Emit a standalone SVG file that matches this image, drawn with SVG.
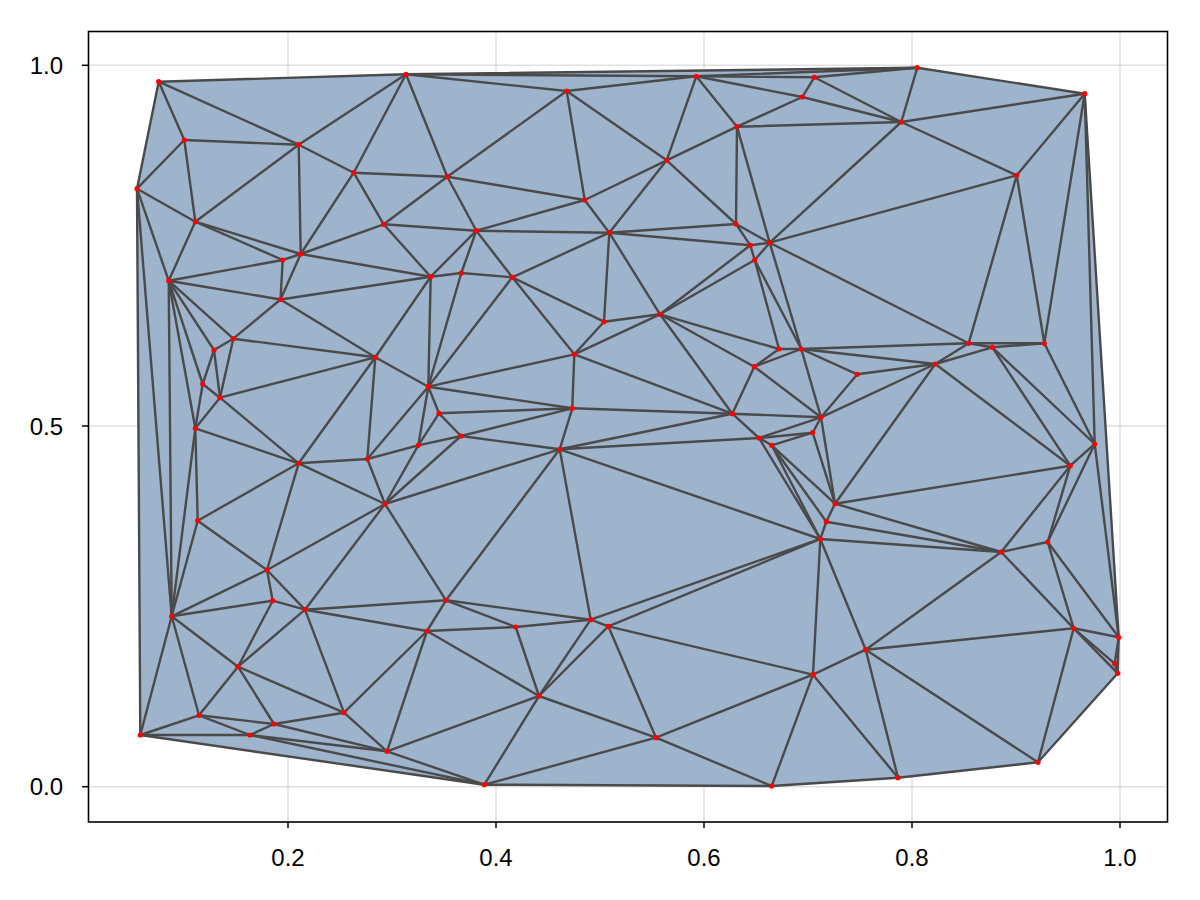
<svg xmlns="http://www.w3.org/2000/svg" width="1200" height="900" viewBox="0 0 1200 900">
<style>
.grid line{stroke:#000;stroke-opacity:0.12;stroke-width:1.5}
.tick line{stroke:#000;stroke-width:1.5}
.lbl{font-family:"Liberation Sans",Arial,sans-serif;font-size:24px;fill:#000}
#edges line{stroke:#4a4a4a;stroke-width:2.4;stroke-linecap:round}
.pt{fill:#ff0000}
</style>
<rect width="1200" height="900" fill="#fff"/>
<g class="grid">
<line x1="288" y1="32" x2="288" y2="822"/><line x1="496" y1="32" x2="496" y2="822"/><line x1="704" y1="32" x2="704" y2="822"/><line x1="912" y1="32" x2="912" y2="822"/><line x1="1120" y1="32" x2="1120" y2="822"/>
<line x1="88" y1="65.3" x2="1168" y2="65.3"/><line x1="88" y1="426" x2="1168" y2="426"/><line x1="88" y1="786.7" x2="1168" y2="786.7"/>
</g>
<polygon id="hull" fill="#9eb4cc" points="158.7,81.7 406,74.3 917.3,67.7 1084.7,93.7 1118.7,637.3 1117.7,673.3 1038,762.3 898,777.7 771.7,786 484.3,784.7 140.3,735 137,188.7"/>
<g id="edges">
<line x1="158.7" y1="81.7" x2="406" y2="74.3"/><line x1="406" y1="74.3" x2="917.3" y2="67.7"/><line x1="917.3" y1="67.7" x2="1084.7" y2="93.7"/><line x1="1084.7" y1="93.7" x2="1118.7" y2="637.3"/><line x1="1118.7" y1="637.3" x2="1117.7" y2="673.3"/><line x1="1117.7" y1="673.3" x2="1038" y2="762.3"/><line x1="1038" y1="762.3" x2="898" y2="777.7"/><line x1="898" y1="777.7" x2="771.7" y2="786"/><line x1="771.7" y1="786" x2="484.3" y2="784.7"/><line x1="484.3" y1="784.7" x2="140.3" y2="735"/><line x1="140.3" y1="735" x2="137" y2="188.7"/><line x1="137" y1="188.7" x2="158.7" y2="81.7"/>
<line x1="158.7" y1="81.7" x2="184.3" y2="140"/><line x1="158.7" y1="81.7" x2="298.7" y2="144.7"/><line x1="184.3" y1="140" x2="298.7" y2="144.7"/><line x1="184.3" y1="140" x2="137" y2="188.7"/><line x1="184.3" y1="140" x2="195.3" y2="221.7"/><line x1="298.7" y1="144.7" x2="195.3" y2="221.7"/><line x1="298.7" y1="144.7" x2="300.7" y2="254"/><line x1="298.7" y1="144.7" x2="353.7" y2="172.7"/><line x1="298.7" y1="144.7" x2="406" y2="74.3"/><line x1="353.7" y1="172.7" x2="406" y2="74.3"/><line x1="353.7" y1="172.7" x2="447.3" y2="176.7"/><line x1="353.7" y1="172.7" x2="383.7" y2="224.3"/><line x1="353.7" y1="172.7" x2="300.7" y2="254"/><line x1="137" y1="188.7" x2="195.3" y2="221.7"/><line x1="137" y1="188.7" x2="168.7" y2="280.7"/><line x1="137" y1="188.7" x2="171.7" y2="616.3"/><line x1="195.3" y1="221.7" x2="168.7" y2="280.7"/><line x1="195.3" y1="221.7" x2="282.7" y2="260"/><line x1="195.3" y1="221.7" x2="300.7" y2="254"/><line x1="300.7" y1="254" x2="282.7" y2="260"/><line x1="282.7" y1="260" x2="168.7" y2="280.7"/><line x1="282.7" y1="260" x2="280.5" y2="299.5"/><line x1="300.7" y1="254" x2="280.5" y2="299.5"/><line x1="300.7" y1="254" x2="383.7" y2="224.3"/><line x1="300.7" y1="254" x2="430.7" y2="276.7"/><line x1="280.5" y1="299.5" x2="430.7" y2="276.7"/><line x1="168.7" y1="280.7" x2="280.5" y2="299.5"/>
<line x1="406" y1="74.3" x2="566.7" y2="91"/><line x1="406" y1="74.3" x2="696.3" y2="76.3"/><line x1="406" y1="74.3" x2="447.3" y2="176.7"/><line x1="566.7" y1="91" x2="447.3" y2="176.7"/><line x1="566.7" y1="91" x2="584.7" y2="200"/><line x1="566.7" y1="91" x2="666.7" y2="160.3"/><line x1="566.7" y1="91" x2="696.3" y2="76.3"/><line x1="696.3" y1="76.3" x2="917.3" y2="67.7"/><line x1="696.3" y1="76.3" x2="814.3" y2="77.3"/><line x1="814.3" y1="77.3" x2="917.3" y2="67.7"/><line x1="814.3" y1="77.3" x2="802.3" y2="97"/><line x1="696.3" y1="76.3" x2="802.3" y2="97"/><line x1="814.3" y1="77.3" x2="901.3" y2="122"/><line x1="802.3" y1="97" x2="901.3" y2="122"/><line x1="802.3" y1="97" x2="737" y2="126.7"/><line x1="696.3" y1="76.3" x2="737" y2="126.7"/><line x1="696.3" y1="76.3" x2="666.7" y2="160.3"/><line x1="917.3" y1="67.7" x2="901.3" y2="122"/><line x1="1084.7" y1="93.7" x2="901.3" y2="122"/><line x1="1084.7" y1="93.7" x2="1016.7" y2="175.3"/><line x1="901.3" y1="122" x2="1016.7" y2="175.3"/><line x1="901.3" y1="122" x2="737" y2="126.7"/><line x1="901.3" y1="122" x2="769.7" y2="242.7"/><line x1="737" y1="126.7" x2="666.7" y2="160.3"/><line x1="737" y1="126.7" x2="736" y2="224"/><line x1="737" y1="126.7" x2="769.7" y2="242.7"/><line x1="666.7" y1="160.3" x2="736" y2="224"/><line x1="666.7" y1="160.3" x2="609.3" y2="232.7"/><line x1="666.7" y1="160.3" x2="584.7" y2="200"/><line x1="1016.7" y1="175.3" x2="769.7" y2="242.7"/><line x1="1016.7" y1="175.3" x2="968.7" y2="343.3"/><line x1="1016.7" y1="175.3" x2="1044.3" y2="343.3"/><line x1="1084.7" y1="93.7" x2="1044.3" y2="343.3"/><line x1="1084.7" y1="93.7" x2="1094.7" y2="444"/>
<line x1="447.3" y1="176.7" x2="584.7" y2="200"/><line x1="447.3" y1="176.7" x2="476.3" y2="230.7"/><line x1="447.3" y1="176.7" x2="383.7" y2="224.3"/><line x1="584.7" y1="200" x2="476.3" y2="230.7"/><line x1="584.7" y1="200" x2="609.3" y2="232.7"/><line x1="383.7" y1="224.3" x2="476.3" y2="230.7"/><line x1="383.7" y1="224.3" x2="430.7" y2="276.7"/><line x1="476.3" y1="230.7" x2="609.3" y2="232.7"/><line x1="476.3" y1="230.7" x2="430.7" y2="276.7"/><line x1="476.3" y1="230.7" x2="461.3" y2="273"/><line x1="476.3" y1="230.7" x2="512.3" y2="277.3"/><line x1="430.7" y1="276.7" x2="461.3" y2="273"/><line x1="461.3" y1="273" x2="512.3" y2="277.3"/><line x1="609.3" y1="232.7" x2="512.3" y2="277.3"/><line x1="609.3" y1="232.7" x2="604" y2="321.7"/><line x1="609.3" y1="232.7" x2="736" y2="224"/><line x1="609.3" y1="232.7" x2="750.3" y2="245.3"/><line x1="609.3" y1="232.7" x2="660" y2="314.3"/><line x1="736" y1="224" x2="750.3" y2="245.3"/><line x1="736" y1="224" x2="769.7" y2="242.7"/><line x1="750.3" y1="245.3" x2="769.7" y2="242.7"/><line x1="750.3" y1="245.3" x2="754.7" y2="260"/><line x1="769.7" y1="242.7" x2="754.7" y2="260"/><line x1="750.3" y1="245.3" x2="660" y2="314.3"/><line x1="754.7" y1="260" x2="660" y2="314.3"/><line x1="754.7" y1="260" x2="779" y2="349"/><line x1="754.7" y1="260" x2="801.3" y2="349"/><line x1="769.7" y1="242.7" x2="801.3" y2="349"/><line x1="769.7" y1="242.7" x2="968.7" y2="343.3"/>
<line x1="430.7" y1="276.7" x2="428.3" y2="386.7"/><line x1="430.7" y1="276.7" x2="375.3" y2="357.3"/><line x1="461.3" y1="273" x2="428.3" y2="386.7"/><line x1="512.3" y1="277.3" x2="428.3" y2="386.7"/><line x1="512.3" y1="277.3" x2="574.3" y2="354.3"/><line x1="512.3" y1="277.3" x2="604" y2="321.7"/><line x1="604" y1="321.7" x2="574.3" y2="354.3"/><line x1="604" y1="321.7" x2="660" y2="314.3"/><line x1="660" y1="314.3" x2="574.3" y2="354.3"/><line x1="660" y1="314.3" x2="779" y2="349"/><line x1="660" y1="314.3" x2="754.3" y2="366.7"/><line x1="660" y1="314.3" x2="732.3" y2="413.7"/><line x1="574.3" y1="354.3" x2="428.3" y2="386.7"/><line x1="574.3" y1="354.3" x2="572.3" y2="408.3"/><line x1="574.3" y1="354.3" x2="732.3" y2="413.7"/>
<line x1="168.7" y1="280.7" x2="233.3" y2="338.7"/><line x1="168.7" y1="280.7" x2="214" y2="350"/><line x1="168.7" y1="280.7" x2="202.7" y2="384"/><line x1="168.7" y1="280.7" x2="195.3" y2="428.3"/><line x1="168.7" y1="280.7" x2="171.7" y2="616.3"/><line x1="280.5" y1="299.5" x2="233.3" y2="338.7"/><line x1="280.5" y1="299.5" x2="375.3" y2="357.3"/><line x1="233.3" y1="338.7" x2="214" y2="350"/><line x1="233.3" y1="338.7" x2="220" y2="397.7"/><line x1="233.3" y1="338.7" x2="375.3" y2="357.3"/><line x1="214" y1="350" x2="202.7" y2="384"/><line x1="214" y1="350" x2="220" y2="397.7"/><line x1="202.7" y1="384" x2="220" y2="397.7"/><line x1="202.7" y1="384" x2="195.3" y2="428.3"/><line x1="220" y1="397.7" x2="195.3" y2="428.3"/><line x1="220" y1="397.7" x2="375.3" y2="357.3"/><line x1="220" y1="397.7" x2="298.7" y2="463.3"/><line x1="195.3" y1="428.3" x2="298.7" y2="463.3"/><line x1="195.3" y1="428.3" x2="197.7" y2="520.7"/><line x1="195.3" y1="428.3" x2="171.7" y2="616.3"/><line x1="375.3" y1="357.3" x2="298.7" y2="463.3"/><line x1="375.3" y1="357.3" x2="367.3" y2="459"/><line x1="375.3" y1="357.3" x2="428.3" y2="386.7"/><line x1="298.7" y1="463.3" x2="367.3" y2="459"/><line x1="298.7" y1="463.3" x2="197.7" y2="520.7"/><line x1="298.7" y1="463.3" x2="267" y2="570"/><line x1="298.7" y1="463.3" x2="385" y2="504"/><line x1="197.7" y1="520.7" x2="267" y2="570"/><line x1="197.7" y1="520.7" x2="171.7" y2="616.3"/>
<line x1="428.3" y1="386.7" x2="572.3" y2="408.3"/><line x1="428.3" y1="386.7" x2="439" y2="413.3"/><line x1="428.3" y1="386.7" x2="418.3" y2="445.3"/><line x1="428.3" y1="386.7" x2="367.3" y2="459"/><line x1="418.3" y1="445.3" x2="439" y2="413.3"/><line x1="418.3" y1="445.3" x2="461" y2="436"/><line x1="418.3" y1="445.3" x2="367.3" y2="459"/><line x1="418.3" y1="445.3" x2="385" y2="504"/><line x1="439" y1="413.3" x2="461" y2="436"/><line x1="439" y1="413.3" x2="572.3" y2="408.3"/><line x1="461" y1="436" x2="572.3" y2="408.3"/><line x1="461" y1="436" x2="559.7" y2="449.3"/><line x1="461" y1="436" x2="385" y2="504"/><line x1="572.3" y1="408.3" x2="559.7" y2="449.3"/><line x1="572.3" y1="408.3" x2="732.3" y2="413.7"/><line x1="559.7" y1="449.3" x2="732.3" y2="413.7"/><line x1="559.7" y1="449.3" x2="759" y2="438"/><line x1="559.7" y1="449.3" x2="820.3" y2="539"/><line x1="559.7" y1="449.3" x2="590.7" y2="619.7"/><line x1="559.7" y1="449.3" x2="446" y2="600.3"/><line x1="559.7" y1="449.3" x2="385" y2="504"/><line x1="367.3" y1="459" x2="385" y2="504"/>
<line x1="779" y1="349" x2="801.3" y2="349"/><line x1="779" y1="349" x2="754.3" y2="366.7"/><line x1="801.3" y1="349" x2="754.3" y2="366.7"/><line x1="801.3" y1="349" x2="968.7" y2="343.3"/><line x1="801.3" y1="349" x2="857.3" y2="374.3"/><line x1="801.3" y1="349" x2="935.3" y2="364"/><line x1="801.3" y1="349" x2="821" y2="417.3"/><line x1="754.3" y1="366.7" x2="821" y2="417.3"/><line x1="754.3" y1="366.7" x2="732.3" y2="413.7"/><line x1="857.3" y1="374.3" x2="935.3" y2="364"/><line x1="857.3" y1="374.3" x2="821" y2="417.3"/><line x1="935.3" y1="364" x2="821" y2="417.3"/><line x1="935.3" y1="364" x2="835" y2="503.7"/><line x1="732.3" y1="413.7" x2="821" y2="417.3"/><line x1="732.3" y1="413.7" x2="759" y2="438"/><line x1="821" y1="417.3" x2="759" y2="438"/><line x1="821" y1="417.3" x2="812.7" y2="432.7"/><line x1="821" y1="417.3" x2="835" y2="503.7"/><line x1="759" y1="438" x2="812.7" y2="432.7"/><line x1="759" y1="438" x2="771.7" y2="445.3"/><line x1="759" y1="438" x2="820.3" y2="539"/><line x1="812.7" y1="432.7" x2="771.7" y2="445.3"/><line x1="812.7" y1="432.7" x2="835" y2="503.7"/><line x1="771.7" y1="445.3" x2="835" y2="503.7"/><line x1="771.7" y1="445.3" x2="826.3" y2="521.7"/><line x1="771.7" y1="445.3" x2="820.3" y2="539"/><line x1="835" y1="503.7" x2="826.3" y2="521.7"/><line x1="826.3" y1="521.7" x2="820.3" y2="539"/>
<line x1="968.7" y1="343.3" x2="992.3" y2="347.3"/><line x1="968.7" y1="343.3" x2="1044.3" y2="343.3"/><line x1="992.3" y1="347.3" x2="1044.3" y2="343.3"/><line x1="968.7" y1="343.3" x2="935.3" y2="364"/><line x1="992.3" y1="347.3" x2="935.3" y2="364"/><line x1="992.3" y1="347.3" x2="1070.3" y2="465.7"/><line x1="992.3" y1="347.3" x2="1094.7" y2="444"/><line x1="1044.3" y1="343.3" x2="1094.7" y2="444"/><line x1="935.3" y1="364" x2="1070.3" y2="465.7"/><line x1="1094.7" y1="444" x2="1070.3" y2="465.7"/><line x1="1094.7" y1="444" x2="1047.7" y2="542"/><line x1="1094.7" y1="444" x2="1118.7" y2="637.3"/><line x1="1070.3" y1="465.7" x2="1047.7" y2="542"/><line x1="1070.3" y1="465.7" x2="1001.2" y2="552"/><line x1="1070.3" y1="465.7" x2="835" y2="503.7"/><line x1="835" y1="503.7" x2="1001.2" y2="552"/><line x1="826.3" y1="521.7" x2="1001.2" y2="552"/><line x1="820.3" y1="539" x2="1001.2" y2="552"/><line x1="1047.7" y1="542" x2="1001.2" y2="552"/><line x1="1047.7" y1="542" x2="1073.7" y2="628.3"/><line x1="1047.7" y1="542" x2="1118.7" y2="637.3"/><line x1="1001.2" y1="552" x2="1073.7" y2="628.3"/><line x1="1001.2" y1="552" x2="865.7" y2="649.7"/>
<line x1="820.3" y1="539" x2="865.7" y2="649.7"/><line x1="820.3" y1="539" x2="813" y2="674.7"/><line x1="820.3" y1="539" x2="590.7" y2="619.7"/><line x1="820.3" y1="539" x2="608.3" y2="626.3"/><line x1="865.7" y1="649.7" x2="813" y2="674.7"/><line x1="865.7" y1="649.7" x2="1073.7" y2="628.3"/><line x1="865.7" y1="649.7" x2="1038" y2="762.3"/><line x1="865.7" y1="649.7" x2="898" y2="777.7"/><line x1="813" y1="674.7" x2="898" y2="777.7"/><line x1="813" y1="674.7" x2="771.7" y2="786"/><line x1="813" y1="674.7" x2="656" y2="737.7"/><line x1="813" y1="674.7" x2="608.3" y2="626.3"/><line x1="1073.7" y1="628.3" x2="1118.7" y2="637.3"/><line x1="1073.7" y1="628.3" x2="1114.7" y2="663.7"/><line x1="1073.7" y1="628.3" x2="1117.7" y2="673.3"/><line x1="1073.7" y1="628.3" x2="1038" y2="762.3"/><line x1="1118.7" y1="637.3" x2="1114.7" y2="663.7"/><line x1="1114.7" y1="663.7" x2="1117.7" y2="673.3"/>
<line x1="656" y1="737.7" x2="771.7" y2="786"/><line x1="656" y1="737.7" x2="484.3" y2="784.7"/><line x1="656" y1="737.7" x2="539" y2="696"/><line x1="656" y1="737.7" x2="608.3" y2="626.3"/><line x1="590.7" y1="619.7" x2="608.3" y2="626.3"/><line x1="590.7" y1="619.7" x2="539" y2="696"/><line x1="608.3" y1="626.3" x2="539" y2="696"/><line x1="515.7" y1="627" x2="539" y2="696"/><line x1="515.7" y1="627" x2="590.7" y2="619.7"/><line x1="446" y1="600.3" x2="515.7" y2="627"/><line x1="446" y1="600.3" x2="590.7" y2="619.7"/><line x1="446" y1="600.3" x2="427" y2="631"/><line x1="427" y1="631" x2="515.7" y2="627"/><line x1="427" y1="631" x2="539" y2="696"/><line x1="427" y1="631" x2="387" y2="751.3"/><line x1="427" y1="631" x2="344" y2="712.7"/><line x1="427" y1="631" x2="305" y2="609.7"/><line x1="305" y1="609.7" x2="446" y2="600.3"/><line x1="385" y1="504" x2="446" y2="600.3"/><line x1="385" y1="504" x2="305" y2="609.7"/><line x1="385" y1="504" x2="267" y2="570"/><line x1="539" y1="696" x2="484.3" y2="784.7"/><line x1="539" y1="696" x2="387" y2="751.3"/><line x1="387" y1="751.3" x2="484.3" y2="784.7"/><line x1="250" y1="735" x2="484.3" y2="784.7"/><line x1="250" y1="735" x2="387" y2="751.3"/><line x1="274" y1="724" x2="387" y2="751.3"/><line x1="344" y1="712.7" x2="387" y2="751.3"/>
<line x1="267" y1="570" x2="272.7" y2="600.7"/><line x1="267" y1="570" x2="305" y2="609.7"/><line x1="267" y1="570" x2="171.7" y2="616.3"/><line x1="272.7" y1="600.7" x2="305" y2="609.7"/><line x1="272.7" y1="600.7" x2="171.7" y2="616.3"/><line x1="272.7" y1="600.7" x2="238" y2="666.7"/><line x1="305" y1="609.7" x2="238" y2="666.7"/><line x1="305" y1="609.7" x2="344" y2="712.7"/><line x1="171.7" y1="616.3" x2="238" y2="666.7"/><line x1="171.7" y1="616.3" x2="199" y2="715.3"/><line x1="171.7" y1="616.3" x2="140.3" y2="735"/><line x1="238" y1="666.7" x2="199" y2="715.3"/><line x1="238" y1="666.7" x2="344" y2="712.7"/><line x1="238" y1="666.7" x2="274" y2="724"/><line x1="199" y1="715.3" x2="274" y2="724"/><line x1="199" y1="715.3" x2="140.3" y2="735"/><line x1="199" y1="715.3" x2="250" y2="735"/><line x1="344" y1="712.7" x2="274" y2="724"/><line x1="274" y1="724" x2="250" y2="735"/><line x1="140.3" y1="735" x2="250" y2="735"/>
</g>
<g id="nodes" class="pt">
<g id="n1"><circle cx="158.7" cy="81.7" r="2.6"/></g><g id="n2"><circle cx="406" cy="74.3" r="2.6"/></g><g id="n3"><circle cx="566.7" cy="91" r="2.6"/></g><g id="n4"><circle cx="696.3" cy="76.3" r="2.6"/></g><g id="n5"><circle cx="814.3" cy="77.3" r="2.6"/></g><g id="n6"><circle cx="802.3" cy="97" r="2.6"/></g><g id="n7"><circle cx="917.3" cy="67.7" r="2.6"/></g><g id="n8"><circle cx="1084.7" cy="93.7" r="2.6"/></g><g id="n9"><circle cx="901.3" cy="122" r="2.6"/></g><g id="n10"><circle cx="737" cy="126.7" r="2.6"/></g>
<g id="n11"><circle cx="666.7" cy="160.3" r="2.6"/></g><g id="n12"><circle cx="1016.7" cy="175.3" r="2.6"/></g><g id="n13"><circle cx="184.3" cy="140" r="2.6"/></g><g id="n14"><circle cx="298.7" cy="144.7" r="2.6"/></g><g id="n15"><circle cx="353.7" cy="172.7" r="2.6"/></g><g id="n16"><circle cx="137" cy="188.7" r="2.6"/></g><g id="n17"><circle cx="447.3" cy="176.7" r="2.6"/></g><g id="n18"><circle cx="584.7" cy="200" r="2.6"/></g><g id="n19"><circle cx="195.3" cy="221.7" r="2.6"/></g><g id="n20"><circle cx="383.7" cy="224.3" r="2.6"/></g>
<g id="n21"><circle cx="476.3" cy="230.7" r="2.6"/></g><g id="n22"><circle cx="609.3" cy="232.7" r="2.6"/></g><g id="n23"><circle cx="736" cy="224" r="2.6"/></g><g id="n24"><circle cx="750.3" cy="245.3" r="2.6"/></g><g id="n25"><circle cx="769.7" cy="242.7" r="2.6"/></g><g id="n26"><circle cx="754.7" cy="260" r="2.6"/></g><g id="n27"><circle cx="300.7" cy="254" r="2.6"/></g><g id="n28"><circle cx="282.7" cy="260" r="2.6"/></g><g id="n29"><circle cx="168.7" cy="280.7" r="2.6"/></g><g id="n30"><circle cx="280.5" cy="299.5" r="2.6"/></g>
<g id="n31"><circle cx="430.7" cy="276.7" r="2.6"/></g><g id="n32"><circle cx="461.3" cy="273" r="2.6"/></g><g id="n33"><circle cx="512.3" cy="277.3" r="2.6"/></g><g id="n34"><circle cx="604" cy="321.7" r="2.6"/></g><g id="n35"><circle cx="660" cy="314.3" r="2.6"/></g><g id="n36"><circle cx="233.3" cy="338.7" r="2.6"/></g><g id="n37"><circle cx="214" cy="350" r="2.6"/></g><g id="n38"><circle cx="375.3" cy="357.3" r="2.6"/></g><g id="n39"><circle cx="574.3" cy="354.3" r="2.6"/></g><g id="n40"><circle cx="202.7" cy="384" r="2.6"/></g>
<g id="n41"><circle cx="220" cy="397.7" r="2.6"/></g><g id="n42"><circle cx="428.3" cy="386.7" r="2.6"/></g><g id="n43"><circle cx="779" cy="349" r="2.6"/></g><g id="n44"><circle cx="801.3" cy="349" r="2.6"/></g><g id="n45"><circle cx="754.3" cy="366.7" r="2.6"/></g><g id="n46"><circle cx="857.3" cy="374.3" r="2.6"/></g><g id="n47"><circle cx="968.7" cy="343.3" r="2.6"/></g><g id="n48"><circle cx="992.3" cy="347.3" r="2.6"/></g><g id="n49"><circle cx="1044.3" cy="343.3" r="2.6"/></g><g id="n50"><circle cx="935.3" cy="364" r="2.6"/></g>
<g id="n51"><circle cx="439" cy="413.3" r="2.6"/></g><g id="n52"><circle cx="572.3" cy="408.3" r="2.6"/></g><g id="n53"><circle cx="195.3" cy="428.3" r="2.6"/></g><g id="n54"><circle cx="732.3" cy="413.7" r="2.6"/></g><g id="n55"><circle cx="821" cy="417.3" r="2.6"/></g><g id="n56"><circle cx="461" cy="436" r="2.6"/></g><g id="n57"><circle cx="418.3" cy="445.3" r="2.6"/></g><g id="n58"><circle cx="759" cy="438" r="2.6"/></g><g id="n59"><circle cx="812.7" cy="432.7" r="2.6"/></g><g id="n60"><circle cx="771.7" cy="445.3" r="2.6"/></g>
<g id="n61"><circle cx="559.7" cy="449.3" r="2.6"/></g><g id="n62"><circle cx="1094.7" cy="444" r="2.6"/></g><g id="n63"><circle cx="298.7" cy="463.3" r="2.6"/></g><g id="n64"><circle cx="367.3" cy="459" r="2.6"/></g><g id="n65"><circle cx="1070.3" cy="465.7" r="2.6"/></g><g id="n66"><circle cx="385" cy="504" r="2.6"/></g><g id="n67"><circle cx="835" cy="503.7" r="2.6"/></g><g id="n68"><circle cx="826.3" cy="521.7" r="2.6"/></g><g id="n69"><circle cx="820.3" cy="539" r="2.6"/></g><g id="n70"><circle cx="197.7" cy="520.7" r="2.6"/></g>
<g id="n71"><circle cx="1047.7" cy="542" r="2.6"/></g><g id="n72"><circle cx="1001.2" cy="552" r="2.6"/></g><g id="n73"><circle cx="267" cy="570" r="2.6"/></g><g id="n74"><circle cx="272.7" cy="600.7" r="2.6"/></g><g id="n75"><circle cx="305" cy="609.7" r="2.6"/></g><g id="n76"><circle cx="171.7" cy="616.3" r="2.6"/></g><g id="n77"><circle cx="446" cy="600.3" r="2.6"/></g><g id="n78"><circle cx="427" cy="631" r="2.6"/></g><g id="n79"><circle cx="515.7" cy="627" r="2.6"/></g><g id="n80"><circle cx="590.7" cy="619.7" r="2.6"/></g>
<g id="n81"><circle cx="608.3" cy="626.3" r="2.6"/></g><g id="n82"><circle cx="238" cy="666.7" r="2.6"/></g><g id="n83"><circle cx="539" cy="696" r="2.6"/></g><g id="n84"><circle cx="865.7" cy="649.7" r="2.6"/></g><g id="n85"><circle cx="813" cy="674.7" r="2.6"/></g><g id="n86"><circle cx="1073.7" cy="628.3" r="2.6"/></g><g id="n87"><circle cx="1118.7" cy="637.3" r="2.6"/></g><g id="n88"><circle cx="1114.7" cy="663.7" r="2.6"/></g><g id="n89"><circle cx="1117.7" cy="673.3" r="2.6"/></g><g id="n90"><circle cx="199" cy="715.3" r="2.6"/></g>
<g id="n91"><circle cx="344" cy="712.7" r="2.6"/></g><g id="n92"><circle cx="274" cy="724" r="2.6"/></g><g id="n93"><circle cx="140.3" cy="735" r="2.6"/></g><g id="n94"><circle cx="250" cy="735" r="2.6"/></g><g id="n95"><circle cx="387" cy="751.3" r="2.6"/></g><g id="n96"><circle cx="656" cy="737.7" r="2.6"/></g><g id="n97"><circle cx="1038" cy="762.3" r="2.6"/></g><g id="n98"><circle cx="898" cy="777.7" r="2.6"/></g><g id="n99"><circle cx="484.3" cy="784.7" r="2.6"/></g><g id="n100"><circle cx="771.7" cy="786" r="2.6"/></g>
</g>
<rect x="88.5" y="31.5" width="1079" height="790.5" fill="none" stroke="#000" stroke-width="1.6"/>
<g class="tick">
<line x1="288" y1="822" x2="288" y2="828"/><line x1="496" y1="822" x2="496" y2="828"/><line x1="704" y1="822" x2="704" y2="828"/><line x1="912" y1="822" x2="912" y2="828"/><line x1="1120" y1="822" x2="1120" y2="828"/>
<line x1="88" y1="65.3" x2="82" y2="65.3"/><line x1="88" y1="426" x2="82" y2="426"/><line x1="88" y1="786.7" x2="82" y2="786.7"/>
</g>
<g class="lbl" text-anchor="middle">
<text x="288" y="866">0.2</text><text x="496" y="866">0.4</text><text x="704" y="866">0.6</text><text x="912" y="866">0.8</text><text x="1120" y="866">1.0</text>
</g>
<g class="lbl" text-anchor="end">
<text x="63" y="74">1.0</text><text x="63" y="434.5">0.5</text><text x="63" y="795">0.0</text>
</g>
</svg>
